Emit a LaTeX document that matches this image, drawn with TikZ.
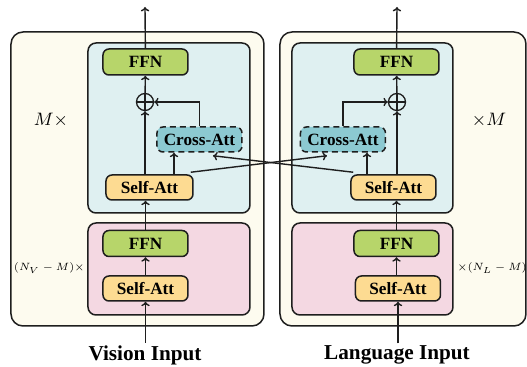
\documentclass[tikz,border=0pt]{standalone}
\usepackage{fontspec}
\setmainfont{Liberation Serif}
\usepackage{amsmath}
\usetikzlibrary{positioning, arrows.meta}
\definecolor{outerColor}{RGB}{253,251,239}
\definecolor{fusionColor}{RGB}{223,240,241}
\definecolor{encoderColor}{RGB}{244,216,226}
\definecolor{ffnColor}{RGB}{183,213,106}
\definecolor{selfColor}{RGB}{253,219,146}
\definecolor{crossColor}{RGB}{140,201,209}
\definecolor{lineColor}{RGB}{30,30,30}
\tikzstyle{pixel} = [x = .5pt, y = -.5pt]
\tikzstyle{outerStyle} = [draw=lineColor, fill=outerColor, rounded corners = 6pt, line width=.75pt]
\tikzstyle{fusionStyle} = [draw=lineColor, fill=fusionColor, rounded corners = 4pt, line width=.75pt]
\tikzstyle{encoderStyle} = [draw=lineColor, fill=encoderColor, rounded corners = 4pt, line width=.75pt]
\tikzstyle{blockStyle} = [draw=lineColor, line width=.75pt, rounded corners = 3pt, minimum width = 42.5pt, minimum height = 12.5pt, inner sep = 0pt, font=\fontsize{8.6}{10}\selectfont\bfseries]
\tikzstyle{ffnStyle} = [blockStyle, fill=ffnColor, minimum height = 13pt]
\tikzstyle{selfStyle} = [blockStyle, fill=selfColor]
\tikzstyle{crossStyle} = [blockStyle, fill=crossColor, dash pattern = on 3pt off 2pt]
\tikzstyle{addStyle} = [circle, draw=lineColor, line width=.65pt, minimum size = 8.5pt, inner sep = 0pt,
  path picture = {\draw [line width=.65pt] (path picture bounding box.north) -- (path picture bounding box.south)
    (path picture bounding box.west) -- (path picture bounding box.east);}]
\tikzstyle{arrowLine} = [draw=lineColor, line width=.7pt, -{To[length=2.2pt, width=4.2pt]}]
\tikzstyle{inputText} = [font=\fontsize{10.6}{12}\selectfont\bfseries, inner sep = 1pt]
\tikzstyle{repeatText} = [font=\fontsize{9}{10}\selectfont, inner sep = 0pt]
\tikzstyle{encoderText} = [font=\fontsize{6}{7}\selectfont, inner sep = 0pt, scale = .88]
\newcommand{\stageBox}[5]{\filldraw [#1] (#2, #3) rectangle (#4, #5);}

\begin{document}
\begin{tikzpicture}[pixel]
      \useasboundingbox (0, 0) rectangle (527, 367);
      \stageBox{outerStyle}{11}{32}{264}{326}
      \stageBox{outerStyle}{280}{32}{526}{326}
      \stageBox{fusionStyle}{88}{43}{250}{213}
      \stageBox{fusionStyle}{292}{43}{453}{213}
      \stageBox{encoderStyle}{88}{223}{250}{315}
      \stageBox{encoderStyle}{292}{223}{453}{315}

      \node [ffnStyle] (vFfnTop) at (145.5, 62) {FFN};
      \node [addStyle] (vAdd) at (145, 102) {};
      \node [crossStyle] (vCross) at (199.5, 139.5) {Cross-Att};
      \node [selfStyle, minimum width = 43.5pt] (vSelfTop) at (149.5, 187.5) {Self-Att};
      \node [ffnStyle] (vFfnBot) at (145.5, 243.5) {FFN};
      \node [selfStyle] (vSelfBot) at (145.5, 288.5) {Self-Att};
      \node [inputText] (vInput) at (145, 355) {Vision Input};
      \coordinate (vOutput) at (145, 7);

      \node [ffnStyle] (lFfnTop) at (396.5, 62) {FFN};
      \node [addStyle] (lAdd) at (397, 102) {};
      \node [crossStyle] (lCross) at (343, 139.5) {Cross-Att};
      \node [selfStyle] (lSelfTop) at (393.5, 187.5) {Self-Att};
      \node [ffnStyle] (lFfnBot) at (396.5, 243.5) {FFN};
      \node [selfStyle] (lSelfBot) at (398, 288.5) {Self-Att};
      \node [inputText] (lInput) at (397, 355) {Language Input};
      \coordinate (lOutput) at (397, 7);

      \node [repeatText] (vRepeat) at (51, 120) {$M\times$};
      \node [repeatText] (lRepeat) at (489, 120) {$\times M$};
      \node [encoderText, anchor = east] (vEncoder) at (85, 268) {$(N_V-M)\times$};
      \node [encoderText, anchor = west] (lEncoder) at (457, 268) {$\times(N_L-M)$};

      \draw [arrowLine] (vInput.north -| vSelfBot) -- (vSelfBot.south);
      \draw [arrowLine] (vSelfBot) -- (vFfnBot);
      \draw [arrowLine] (vFfnBot.north) -- (vFfnBot.north |- vSelfTop.south);
      \draw [arrowLine] (vSelfTop.north -| vAdd) -- (vAdd.south);
      \draw [arrowLine] ([xshift=-12.75pt]vCross.south |- vSelfTop.north) -- ([xshift=-12.75pt]vCross.south);
      \draw [arrowLine] (vCross.north) |- (vAdd.east);
      \draw [arrowLine] (vAdd) -- (vFfnTop);
      \draw [arrowLine] (vFfnTop) -- (vOutput);

      \draw [arrowLine] (lInput.north -| lSelfBot) -- (lSelfBot.south);
      \draw [arrowLine] (lSelfBot.north -| lFfnBot) -- (lFfnBot.south);
      \draw [arrowLine] (lFfnBot.north) -- (lFfnBot.north |- lSelfTop.south);
      \draw [arrowLine] (lSelfTop.north -| lAdd) -- (lAdd.south);
      \draw [arrowLine] ([xshift=12pt]lCross.south |- lSelfTop.north) -- ([xshift=12pt]lCross.south);
      \draw [arrowLine] (lCross.north) |- (lAdd.west);
      \draw [arrowLine] (lAdd) -- (lFfnTop);
      \draw [arrowLine] (lFfnTop) -- (lOutput);

      \draw [arrowLine] ([xshift=-1.5pt, yshift=1pt]vSelfTop.north east) -- ([xshift=-8pt, yshift=-1.5pt]lCross.south);
      \draw [arrowLine] ([xshift=1.5pt, yshift=1pt]lSelfTop.north west) -- ([xshift=6.75pt, yshift=-1.5pt]vCross.south);
    \end{tikzpicture}
\end{document}
